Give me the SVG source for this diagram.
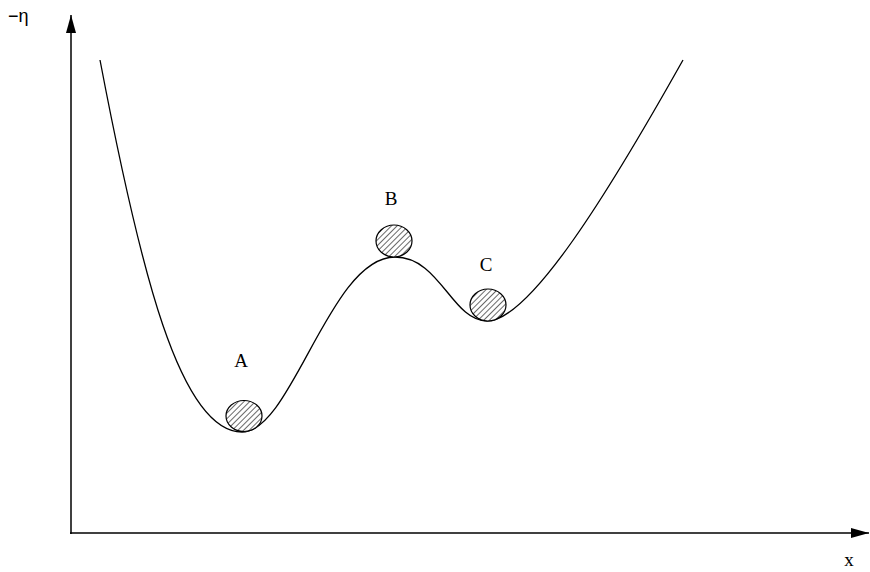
<svg xmlns="http://www.w3.org/2000/svg" width="870" height="572" viewBox="0 0 870 572">
<style>
.lbl{font-family:"Liberation Serif",serif;font-size:19px;fill:#000}
.ball{fill:url(#hatch);stroke:#000;stroke-width:1.2}
.ax{stroke:#000;stroke-width:1.5;fill:none}
</style>
<defs>
<pattern id="hatch" patternUnits="userSpaceOnUse" width="4" height="4" patternTransform="rotate(45)">
<rect width="4" height="4" fill="#fff"/>
<line x1="0" y1="0" x2="0" y2="4" stroke="#444" stroke-width="1.6"/>
</pattern>
<marker id="arr" markerWidth="18" markerHeight="10" refX="18" refY="5" orient="auto" markerUnits="userSpaceOnUse">
<path d="M0,0 L18,5 L0,10 Z" fill="#000"/>
</marker>
</defs>
<g id="connectors">
<line class="ax" x1="71" y1="534" x2="71" y2="15" marker-end="url(#arr)"/>
<line class="ax" x1="70" y1="533" x2="869" y2="533" marker-end="url(#arr)"/>
<path id="curve" d="M100,60 C140,270 180,432 242,432 C292,432 330,257 395,257 C440,257 452,321 487,321 C530,321 610,190 683,60" fill="none" stroke="#000" stroke-width="1.3"/>
</g>
<g id="ballA"><ellipse class="ball" cx="244" cy="416" rx="18" ry="15.5"/><text class="lbl" x="241" y="367" text-anchor="middle">A</text></g>
<g id="ballB"><ellipse class="ball" cx="394" cy="241" rx="18" ry="16"/><text class="lbl" x="391" y="205" text-anchor="middle">B</text></g>
<g id="ballC"><ellipse class="ball" cx="488" cy="305" rx="18" ry="16"/><text class="lbl" x="486" y="271" text-anchor="middle">C</text></g>
<g id="labels">
<text x="8" y="22" style="font-family:'Liberation Sans',sans-serif;font-size:18px">−η</text>
<text class="lbl" x="849" y="566" text-anchor="middle">x</text>
</g>
</svg>
